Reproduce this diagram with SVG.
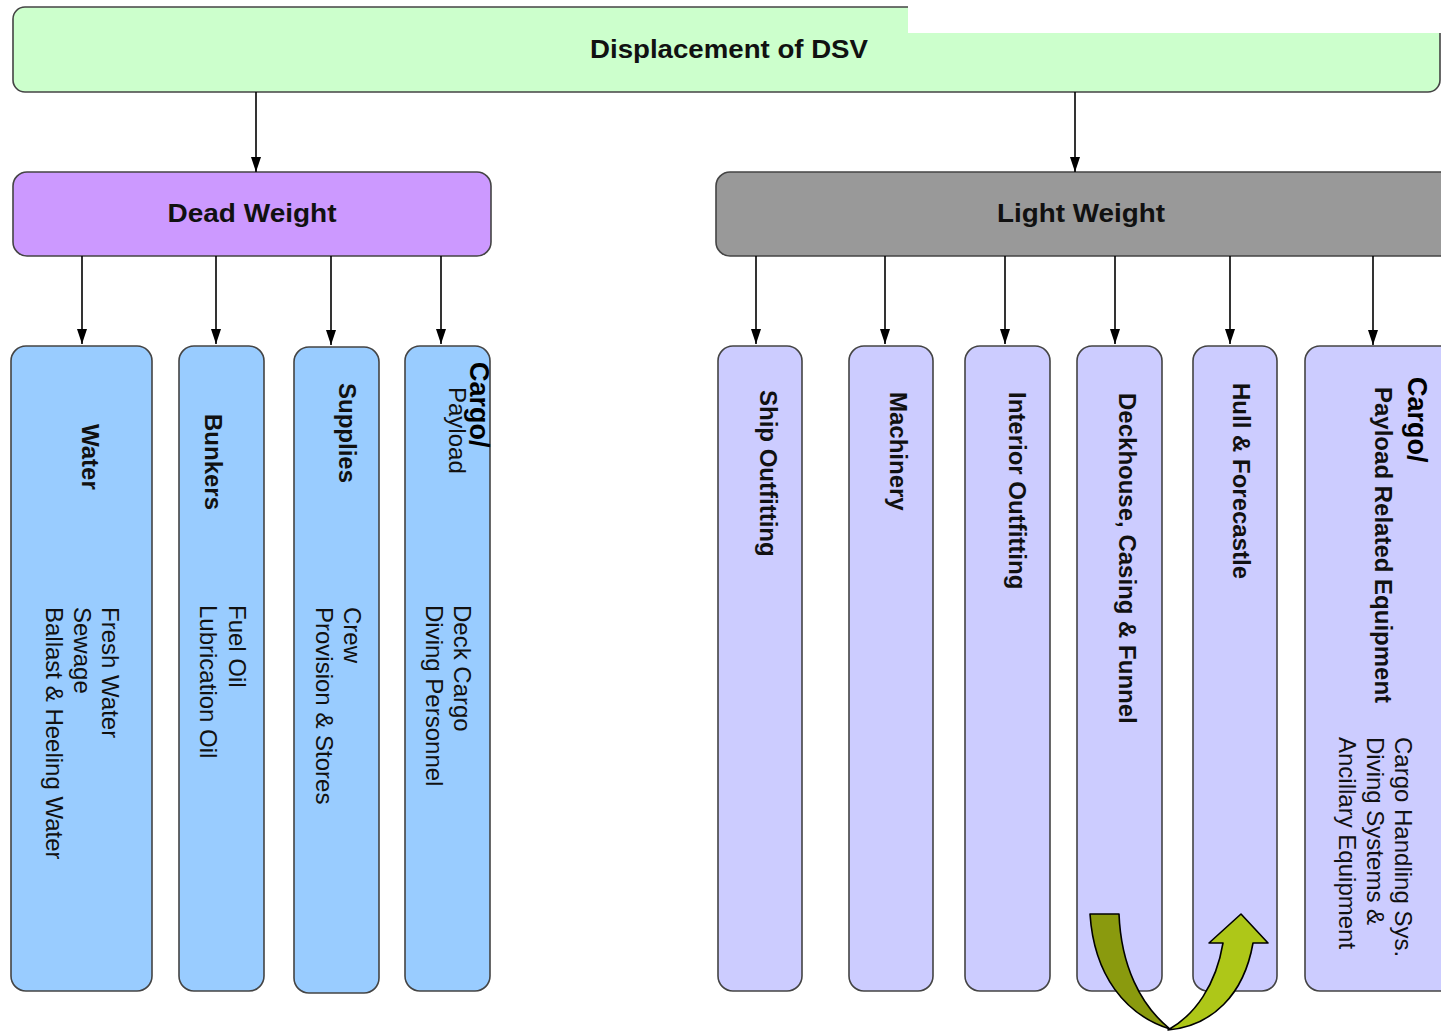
<svg xmlns="http://www.w3.org/2000/svg" width="1441" height="1031" viewBox="0 0 1441 1031">
<style>
.box{stroke:#444;stroke-width:1.6}
.top{fill:#ccffcc}
.dw{fill:#cc99ff}
.lw{fill:#999999}
.blue{fill:#99ccff}
.lav{fill:#ccccff}
.hdr{font-family:"Liberation Sans",Arial,sans-serif;font-weight:bold;font-size:26px;fill:#111;text-anchor:middle}
.vb{font-family:"Liberation Sans",Arial,sans-serif;font-weight:bold;font-size:24px;fill:#111}
.vr{font-family:"Liberation Sans",Arial,sans-serif;font-size:24px;fill:#111}
.vc{font-family:"Liberation Sans",Arial,sans-serif;font-weight:bold;font-size:27px;fill:#000}
.con{stroke:#000;stroke-width:1.6;fill:none;marker-end:url(#ah)}
</style>
<defs>
<marker id="ah" viewBox="0 0 15 10" refX="15" refY="5" markerWidth="15" markerHeight="10" markerUnits="userSpaceOnUse" orient="auto">
<path d="M0,0 L15,5 L0,10 Z" fill="#000"/>
</marker>
</defs>
<rect width="1441" height="1031" fill="#fff"/>

<g id="displacement">
<rect class="box top" x="13" y="7" width="1427" height="85" rx="12"/>
<rect x="908" y="0" width="533" height="33" fill="#fff"/>
<text class="hdr" x="729" y="58" textLength="278" lengthAdjust="spacingAndGlyphs">Displacement of DSV</text>
</g>

<g id="deadweight">
<rect class="box dw" x="13" y="172" width="478" height="84" rx="14"/>
<text class="hdr" x="252" y="222" textLength="169" lengthAdjust="spacingAndGlyphs">Dead Weight</text>
</g>

<g id="lightweight">
<rect class="box lw" x="716" y="172" width="740" height="84" rx="14"/>
<text class="hdr" x="1081" y="222" textLength="168" lengthAdjust="spacingAndGlyphs">Light Weight</text>
</g>

<g id="water">
<rect class="box blue" x="11" y="346" width="141" height="645" rx="15"/>
<text class="vb" transform="translate(82 424) rotate(90)">Water</text>
<text class="vr" transform="translate(102 607) rotate(90)">Fresh Water</text>
<text class="vr" transform="translate(74 607) rotate(90)">Sewage</text>
<text class="vr" transform="translate(46 607) rotate(90)">Ballast &amp; Heeling Water</text>
</g>

<g id="bunkers">
<rect class="box blue" x="179" y="346" width="85" height="645" rx="15"/>
<text class="vb" transform="translate(205 414) rotate(90)">Bunkers</text>
<text class="vr" transform="translate(229 605) rotate(90)">Fuel Oil</text>
<text class="vr" transform="translate(200 605) rotate(90)">Lubrication Oil</text>
</g>

<g id="supplies">
<rect class="box blue" x="294" y="347" width="85" height="646" rx="15"/>
<text class="vb" transform="translate(339 383) rotate(90)">Supplies</text>
<text class="vr" transform="translate(344 607) rotate(90)">Crew</text>
<text class="vr" transform="translate(316 607) rotate(90)">Provision &amp; Stores</text>
</g>

<g id="cargo-payload">
<rect class="box blue" x="405" y="346" width="85" height="645" rx="15"/>
<text class="vc" transform="translate(470 362) rotate(90)">Cargo/</text>
<text class="vr" transform="translate(449 387) rotate(90)">Payload</text>
<text class="vr" transform="translate(454 605) rotate(90)">Deck Cargo</text>
<text class="vr" transform="translate(426 605) rotate(90)">Diving Personnel</text>
</g>

<g id="ship-outfitting">
<rect class="box lav" x="718" y="346" width="84" height="645" rx="15"/>
<text class="vb" transform="translate(760 390) rotate(90)">Ship Outfitting</text>
</g>

<g id="machinery">
<rect class="box lav" x="849" y="346" width="84" height="645" rx="15"/>
<text class="vb" transform="translate(890 392) rotate(90)">Machinery</text>
</g>

<g id="interior-outfitting">
<rect class="box lav" x="965" y="346" width="85" height="645" rx="15"/>
<text class="vb" transform="translate(1009 392) rotate(90)">Interior Outfitting</text>
</g>

<g id="deckhouse">
<rect class="box lav" x="1077" y="346" width="85" height="645" rx="15"/>
<text class="vb" transform="translate(1119 393) rotate(90)">Deckhouse, Casing &amp; Funnel</text>
</g>

<g id="hull">
<rect class="box lav" x="1193" y="346" width="84" height="645" rx="15"/>
<text class="vb" transform="translate(1233 383) rotate(90)">Hull &amp; Forecastle</text>
</g>

<g id="cargo-equipment">
<rect class="box lav" x="1305" y="346" width="150" height="645" rx="15"/>
<text class="vc" transform="translate(1408 377) rotate(90)">Cargo/</text>
<text class="vb" transform="translate(1375 387) rotate(90)">Payload Related Equipment</text>
<text class="vr" transform="translate(1395 737) rotate(90)">Cargo Handling Sys.</text>
<text class="vr" transform="translate(1367 737) rotate(90)">Diving Systems &amp;</text>
<text class="vr" transform="translate(1339 737) rotate(90)">Ancillary Equipment</text>
</g>

<g id="connectors">
<line class="con" x1="256" y1="92" x2="256" y2="172"/>
<line class="con" x1="1075" y1="92" x2="1075" y2="172"/>
<line class="con" x1="82" y1="256" x2="82" y2="344"/>
<line class="con" x1="216" y1="256" x2="216" y2="344"/>
<line class="con" x1="331" y1="256" x2="331" y2="345"/>
<line class="con" x1="441" y1="256" x2="441" y2="344"/>
<line class="con" x1="756" y1="256" x2="756" y2="344"/>
<line class="con" x1="885" y1="256" x2="885" y2="344"/>
<line class="con" x1="1005" y1="256" x2="1005" y2="344"/>
<line class="con" x1="1115" y1="256" x2="1115" y2="344"/>
<line class="con" x1="1230" y1="256" x2="1230" y2="344"/>
<line class="con" x1="1373" y1="256" x2="1373" y2="345"/>
</g>

<g id="u-turn-arrow" stroke="#000" stroke-width="1.6" stroke-linejoin="round">
<path d="M1090,914 L1119,914 C1121,965 1140,1005 1170,1029 C1125,1015 1094,975 1090,914 Z" fill="#8a9a0e"/>
<path d="M1168,1030 C1195,1015 1216,985 1223,943 L1209,943 L1241,914 L1268,943 L1253,943 C1244,995 1212,1026 1168,1030 Z" fill="#aec718"/>
</g>
</svg>
